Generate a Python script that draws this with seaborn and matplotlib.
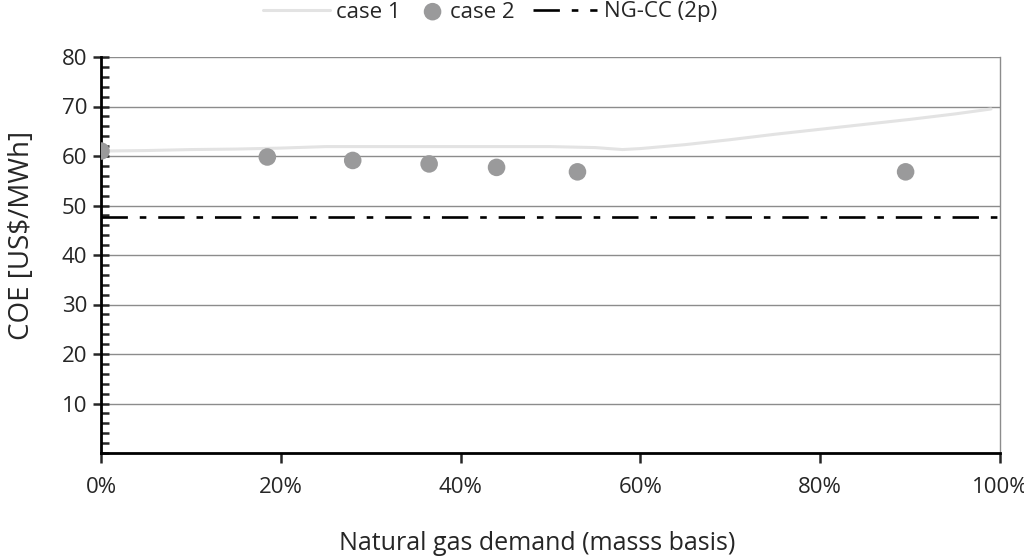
"""COE vs natural gas demand, case 1 / case 2 vs NG-CC reference."""

import matplotlib.pyplot as plt
import pandas as pd
import seaborn as sns
from matplotlib.ticker import MultipleLocator, FuncFormatter

# case 1: continuous curve (x in %, y in US$/MWh)
case1_x = [0, 5, 10, 15, 20, 25, 30, 35, 40, 45, 50, 55, 58, 60, 65, 70, 75, 80, 85, 90, 95, 99]
case1_y = [61.0, 61.1, 61.3, 61.4, 61.6, 61.9, 61.9, 61.9, 61.9, 61.9, 61.9, 61.7, 61.3,
           61.5, 62.3, 63.3, 64.4, 65.4, 66.4, 67.4, 68.5, 69.5]

# case 2: discrete points
case2_x = [0, 18.5, 28, 36.5, 44, 53, 89.5]
case2_y = [61.0, 59.8, 59.1, 58.4, 57.7, 56.8, 56.8]

# NG-CC (2p) reference level
ngcc_level = 47.6


def main() -> None:
    sns.set_style("white")
    plt.rcParams["font.family"] = ["Open Sans", "DejaVu Sans"]

    W, H = 1024, 557
    fig = plt.figure(figsize=(W / 100, H / 100), dpi=100)
    ax = fig.add_axes([101 / W, 104 / H, 899 / W, 396 / H])

    df1 = pd.DataFrame({"x": case1_x, "y": case1_y})
    df2 = pd.DataFrame({"x": case2_x, "y": case2_y})

    for v in range(10, 81, 10):
        ax.axhline(v, color="#8c8c8c", lw=1.0, zorder=0)

    sns.lineplot(data=df1, x="x", y="y", ax=ax, color="#e3e3e3", lw=2.2,
                 errorbar=None, label="case 1")
    sns.scatterplot(data=df2, x="x", y="y", ax=ax, color="#9a9a9b", s=160,
                    edgecolor="none", label="case 2", zorder=3)
    ax.axhline(ngcc_level, color="black", lw=1.9, dashes=(10, 4.5, 2.5, 4.5),
               label="NG-CC (2p)")

    ax.set_xlim(0, 100)
    ax.set_ylim(0, 80)
    ax.xaxis.set_major_locator(MultipleLocator(20))
    ax.xaxis.set_major_formatter(FuncFormatter(lambda v, p: f"{v:.0f}%"))
    ax.yaxis.set_minor_locator(MultipleLocator(2))
    ax.set_yticks(range(10, 81, 10))
    ax.set_yticklabels([str(v) for v in range(10, 81, 10)])

    ax.tick_params(axis="y", which="major", direction="inout", length=12, width=1.8,
                   labelsize=16, pad=4, left=True)
    ax.tick_params(axis="y", which="minor", direction="in", length=6, width=1.8, left=True)
    ax.tick_params(axis="x", which="major", direction="out", length=7, width=1.8,
                   labelsize=16, pad=10, bottom=True)

    for side in ["left", "bottom"]:
        ax.spines[side].set_color("black")
        ax.spines[side].set_linewidth(2)
    ax.spines["top"].set_visible(False)
    ax.spines["right"].set_color("#8c8c8c")
    ax.spines["right"].set_linewidth(1.0)

    ax.set_xlabel("Natural gas demand (masss basis)", fontsize=18)
    ax.set_ylabel("COE [US$/MWh]", fontsize=20)
    ax.xaxis.set_label_coords(0.485, -0.197)
    ax.yaxis.set_label_coords(-0.072, 0.55)

    # legend: three separate entries so each handle can have its own length
    handles, labels = ax.get_legend_handles_labels()
    if ax.get_legend() is not None:
        ax.get_legend().remove()
    entries = dict(zip(labels, handles))
    legend_specs = [("case 1", 263, 3.0), ("case 2", 422, 0.95), ("NG-CC (2p)", 533, 2.9)]
    for lab, x0, hlen in legend_specs:
        fig.legend([entries[lab]], [lab], loc="center left",
                   bbox_to_anchor=(x0 / W, 1 - 12 / H), frameon=False,
                   fontsize=16, handlelength=hlen, handletextpad=0.3,
                   borderpad=0, borderaxespad=0)

    fig.savefig("out.png", dpi=100)
    plt.close(fig)


if __name__ == "__main__":
    main()
